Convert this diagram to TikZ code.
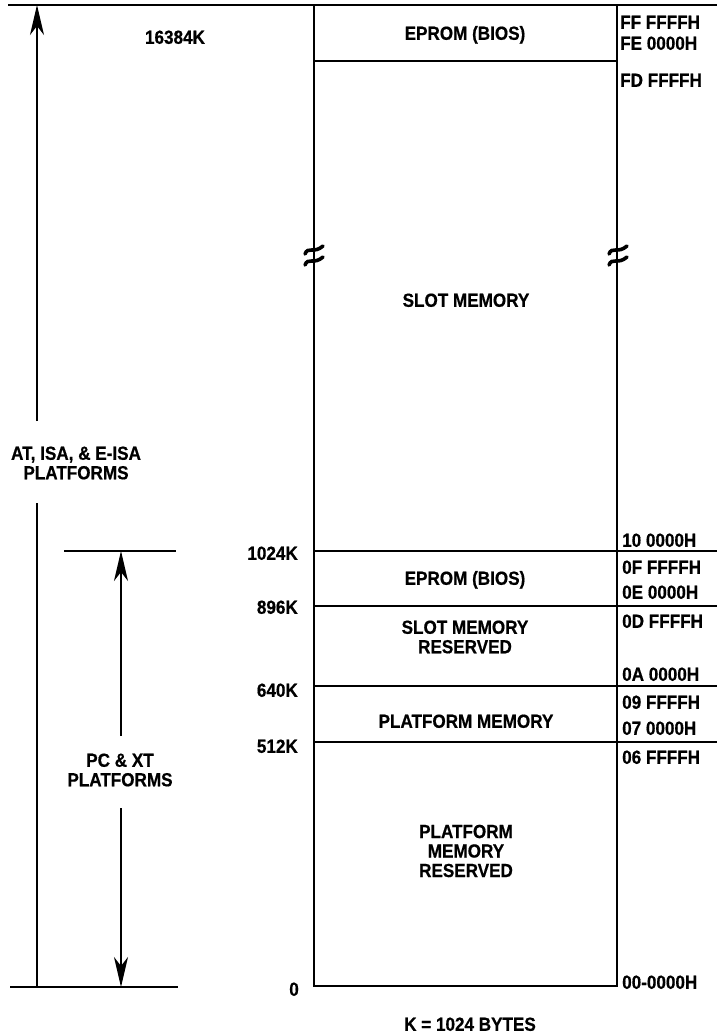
\documentclass[tikz,border=0pt]{standalone}
\usepackage{fontspec}
\setmainfont{Liberation Sans}[FakeStretch=0.9, BoldFeatures={FakeBold=0.6}]
\usetikzlibrary{arrows.meta}
\tikzset{
  lbl/.style={font=\bfseries\fontsize{19}{19.5}\selectfont, inner sep=0pt, text height=13.6pt, text depth=0pt},
  lblm/.style={font=\bfseries\fontsize{19}{19.5}\selectfont, inner sep=0pt, align=center},
  hexl/.style={lbl, anchor=west},
  kl/.style={lbl, anchor=east},
  wall/.style={line width=2.8pt},
  rule/.style={line width=2.3pt},
  dim/.style={line width=2.2pt},
  brk/.style={line width=3.6pt, line cap=round},
  tipup/.style={-{Stealth[length=30pt,width=14pt,inset=9pt]}}
}
\begin{document}
\begin{tikzpicture}[x=1pt,y=-1pt]
\useasboundingbox (0,0) rectangle (717,1036);
% table corners
\coordinate (tl) at (8,5);
\coordinate (tr) at (717,5);
\coordinate (wLt) at (314,5);
\coordinate (wLb) at (314,986);
\coordinate (wRt) at (617,5);
\coordinate (wRb) at (617,986);
% top line and walls
\draw[rule] (tl) -- (tr);
\draw[wall] (wLt) -- (wLb) -- (wRb) -- (wRt);
% rows
\coordinate (r1a) at (314,61);   \coordinate (r1b) at (617,61);
\coordinate (r2a) at (314,551);  \coordinate (r2b) at (717,551);
\coordinate (r3a) at (314,606);  \coordinate (r3b) at (717,606);
\coordinate (r4a) at (314,686);  \coordinate (r4b) at (717,686);
\coordinate (r5a) at (314,742);  \coordinate (r5b) at (717,742);
\draw[rule] (r1a) -- (r1b);
\draw[rule] (r2a) -- (r2b);
\draw[rule] (r3a) -- (r3b);
\draw[rule] (r4a) -- (r4b);
\draw[rule] (r5a) -- (r5b);
% break marks
\foreach \bx in {313,617}{
  \draw[brk] (\bx-8,254) .. controls (\bx-5,246) and (\bx+1,254) .. (\bx+10,246);
  \draw[brk] (\bx-8,265) .. controls (\bx-5,257) and (\bx+1,265) .. (\bx+10,257);
}
% left dimension: AT, ISA, E-ISA
\coordinate (atTop) at (37,5);
\coordinate (atG1) at (37,421);
\coordinate (atG2) at (37,503);
\coordinate (atBot) at (37,987);
\draw[dim,tipup] (atG1) -- (atTop);
\draw[dim] (atG2) -- (atBot);
% PC & XT dimension
\coordinate (kA) at (64,551);  \coordinate (kB) at (176,551);
\coordinate (zA) at (10,987);  \coordinate (zB) at (178,987);
\draw[rule] (kA) -- (kB);
\draw[rule] (zA) -- (zB);
\coordinate (pcTop) at (121,551);
\coordinate (pcG1) at (121,736);
\coordinate (pcG2) at (121,808);
\coordinate (pcBot) at (121,987);
\draw[dim,tipup] (pcG1) -- (pcTop);
\draw[dim,tipup] (pcG2) -- (pcBot);
% texts
\node[lbl] (k16) at (175,37) {16384K};
\node[lbl] (eprom1) at (465,33) {EPROM (BIOS)};
\node[lbl] (slot1) at (466,300) {SLOT MEMORY};
\node[lbl] (eprom2) at (465,578) {EPROM (BIOS)};
\node[lblm] (slot2) at (465,637) {SLOT MEMORY\\RESERVED};
\node[lbl] (plat) at (466,721) {PLATFORM MEMORY};
\node[lblm] (platres) at (466,851) {PLATFORM\\MEMORY\\RESERVED};
\node[lblm] (atisa) at (76,463) {AT, ISA, \& E-ISA\\PLATFORMS};
\node[lblm] (pcxt) at (120,770) {PC \& XT\\PLATFORMS};
\node[lbl] (kbytes) at (470,1024) {K = 1024 BYTES};
% left addresses
\node[kl] (k1024) at (298,553) {1024K};
\node[kl] (k896) at (298,607) {896K};
\node[kl] (k640) at (298,690) {640K};
\node[kl] (k512) at (298,746) {512K};
\node[kl] (k0) at (299,989) {0};
% right addresses
\node[hexl] (h1) at (620,22) {FF FFFFH};
\node[hexl] (h2) at (620,43) {FE 0000H};
\node[hexl] (h3) at (620,80) {FD FFFFH};
\node[hexl] (h4) at (622,540) {10 0000H};
\node[hexl] (h5) at (622,567) {0F FFFFH};
\node[hexl] (h6) at (622,592) {0E 0000H};
\node[hexl] (h7) at (622,621) {0D FFFFH};
\node[hexl] (h8) at (622,674) {0A 0000H};
\node[hexl] (h9) at (622,702) {09 FFFFH};
\node[hexl] (h10) at (622,728) {07 0000H};
\node[hexl] (h11) at (622,757) {06 FFFFH};
\node[hexl] (h12) at (622,982) {00-0000H};
\end{tikzpicture}
\end{document}
